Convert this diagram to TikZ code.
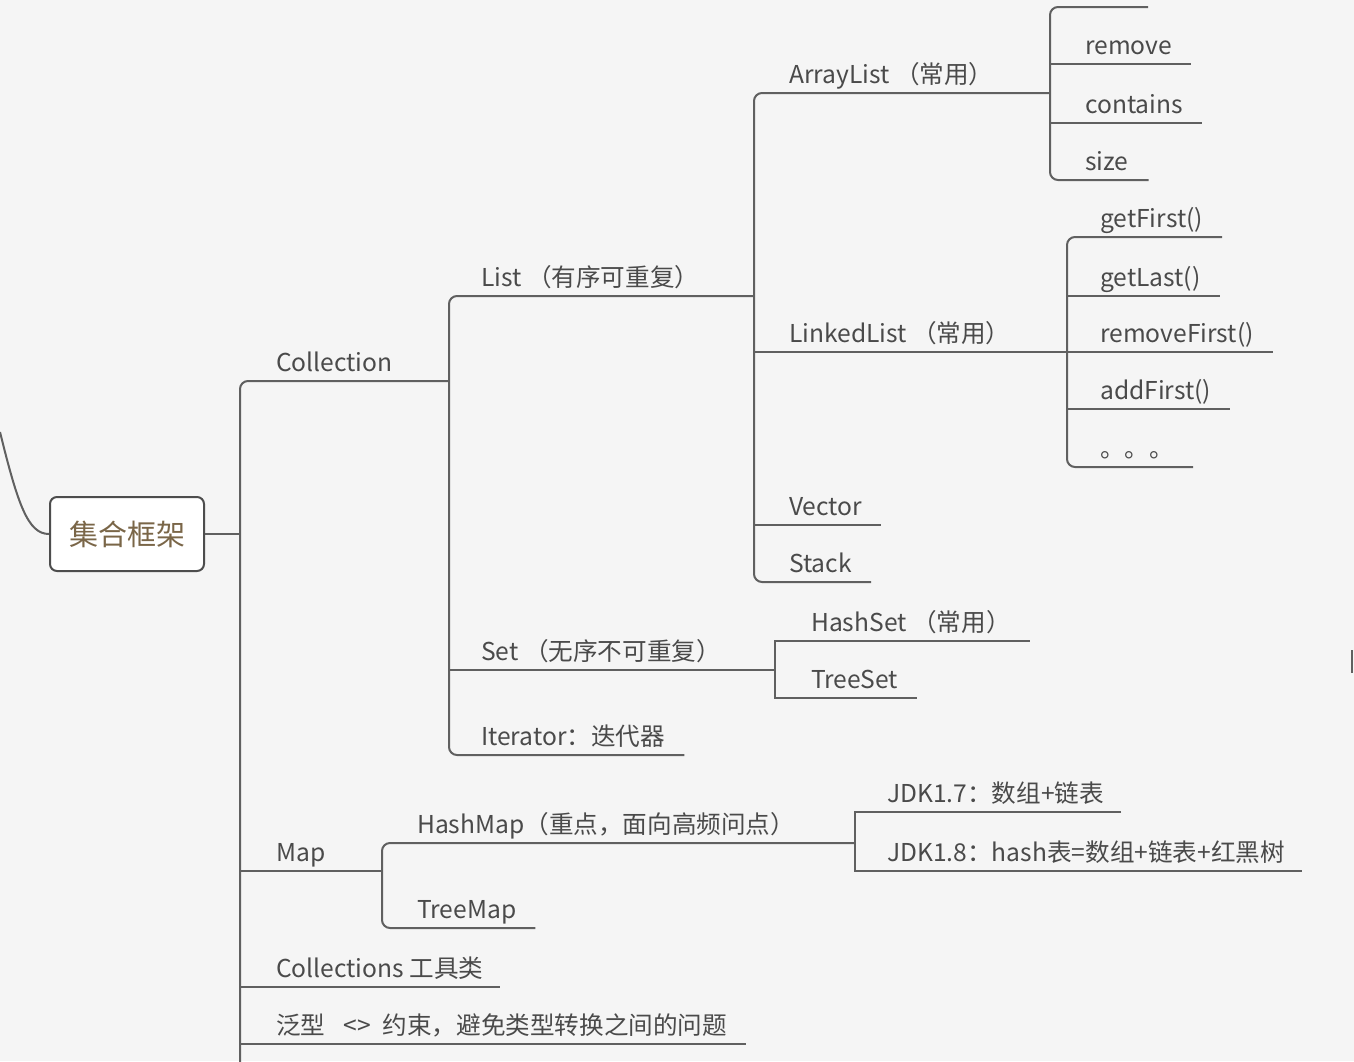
\documentclass[tikz,border=0pt]{standalone}
\usepackage{fontspec}
\setmainfont{Noto Sans CJK SC}
\definecolor{bggray}{HTML}{F5F5F5}
\definecolor{linegray}{HTML}{606060}
\definecolor{textgray}{HTML}{4A4A4A}
\definecolor{rootbrown}{HTML}{7A6648}
\begin{document}
\begin{tikzpicture}[x=1pt,y=-1pt,
    branch/.style={draw=linegray,line width=2pt},
    topic/.style={anchor=south west,inner sep=0pt,text depth=9pt,text=textgray,font=\fontsize{24.6}{26}\selectfont},
    rootbox/.style={draw=linegray!80!black,line width=2pt,fill=white,rounded corners=7pt,
        minimum width=154pt,minimum height=74pt,text=rootbrown,font=\fontsize{29}{31}\selectfont}]
    % 背景
    \fill[bggray] (0,0) rectangle (1354,1061);
    \useasboundingbox (0,0) rectangle (1354,1061);

    % 分支的竖线位置
    \coordinate (j0) at (240,0);
    \coordinate (jcoll) at (449,0);
    \coordinate (jlist) at (754,0);
    \coordinate (jal) at (1050,0);
    \coordinate (jll) at (1067,0);
    \coordinate (jset) at (775,0);
    \coordinate (jmap) at (382,0);
    \coordinate (jhm) at (855,0);

    % 中心主题
    \node[rootbox] (root) at (127,534) {集合框架};
    \draw[branch] (0,432) .. controls (18,505) and (28,534) .. (root.west);

    % 第一层
    \node[topic] (coll) at (276,381) {Collection};
    \node[topic] (map) at (276,871) {Map};
    \node[topic] (colls) at (276,987) {Collections 工具类};
    \node[topic] (generic) at (276,1044) {泛型\hspace{18pt}<>\hspace{12pt}约束，避免类型转换之间的问题};

    % Collection 下
    \node[topic] (list) at (481,296) {List （有序可重复）};
    \node[topic] (set) at (481,670) {Set （无序不可重复）};
    \node[topic] (iter) at (481,755) {Iterator：迭代器};

    % List 下
    \node[topic] (alist) at (789,93) {ArrayList （常用）};
    \node[topic] (llist) at (789,352) {LinkedList （常用）};
    \node[topic] (vector) at (789,525) {Vector};
    \node[topic] (stack) at (789,582) {Stack};

    % ArrayList 的方法
    \coordinate (alnone) at (1148,7);
    \node[topic] (remove) at (1085,64) {remove};
    \node[topic] (contains) at (1085,123) {contains};
    \node[topic] (size) at (1085,180) {size};

    % LinkedList 的方法
    \node[topic] (getfirst) at (1100,237) {getFirst()};
    \node[topic] (getlast) at (1100,296) {getLast()};
    \node[topic] (removefirst) at (1100,352) {removeFirst()};
    \node[topic] (addfirst) at (1100,409) {addFirst()};
    \node[topic] (dots) at (1100,467) {。。。};

    % Set 下
    \node[topic] (hashset) at (811,641) {HashSet （常用）};
    \node[topic] (treeset) at (811,698) {TreeSet};

    % Map 下
    \node[topic] (hashmap) at (417,843) {HashMap（重点，面向高频问点）};
    \node[topic] (treemap) at (417,928) {TreeMap};
    \node[topic] (jdkseven) at (887,812) {JDK1.7：数组+链表};
    \node[topic] (jdkeight) at (887,871) {JDK1.8：hash表=数组+链表+红黑树};

    % 连线
    \draw[branch] (root.east) -- (j0 |- root.east);
    \draw[branch,rounded corners=8pt] (jcoll |- coll.south) -- (j0 |- coll.south) -- (240,1065);
    \draw[branch] (j0 |- map.south) -- (jmap |- map.south);
    \draw[branch] (j0 |- colls.south) -- ([xshift=16pt]colls.south east);
    \draw[branch] (j0 |- generic.south) -- ([xshift=19pt]generic.south east);

    \draw[branch,rounded corners=8pt] (jlist |- list.south) -- (jcoll |- list.south)
        -- (jcoll |- iter.south) -- ([xshift=19pt]iter.south east);
    \draw[branch] (jcoll |- set.south) -- (jset |- set.south);

    \draw[branch,rounded corners=8pt] (jal |- alist.south) -- (jlist |- alist.south)
        -- (jlist |- stack.south) -- ([xshift=19pt]stack.south east);
    \draw[branch] (jlist |- llist.south) -- (jll |- llist.south);
    \draw[branch] (jlist |- vector.south) -- ([xshift=19pt]vector.south east);

    \draw[branch,rounded corners=8pt] (alnone) -- (jal |- alnone)
        -- (jal |- size.south) -- ([xshift=20pt]size.south east);
    \draw[branch] (jal |- remove.south) -- ([xshift=19pt]remove.south east);
    \draw[branch] (jal |- contains.south) -- ([xshift=19pt]contains.south east);

    \draw[branch,rounded corners=8pt] ([xshift=19pt]getfirst.south east) -- (jll |- getfirst.south)
        -- (jll |- dots.south) -- ([xshift=19pt]dots.south east);
    \draw[branch] (jll |- getlast.south) -- ([xshift=19pt]getlast.south east);
    \draw[branch] (jll |- removefirst.south) -- ([xshift=19pt]removefirst.south east);
    \draw[branch] (jll |- addfirst.south) -- ([xshift=19pt]addfirst.south east);

    \draw[branch] ([xshift=19pt]hashset.south east) -- (jset |- hashset.south)
        -- (jset |- treeset.south) -- ([xshift=19pt]treeset.south east);

    \draw[branch,rounded corners=8pt] (jhm |- hashmap.south) -- (jmap |- hashmap.south)
        -- (jmap |- treemap.south) -- ([xshift=19pt]treemap.south east);
    \draw[branch] ([xshift=17pt]jdkseven.south east) -- (jhm |- jdkseven.south)
        -- (jhm |- jdkeight.south) -- ([xshift=17pt]jdkeight.south east);

    % 右边缘
    \draw[branch] (1352,650) -- (1352,673);
\end{tikzpicture}
\end{document}
